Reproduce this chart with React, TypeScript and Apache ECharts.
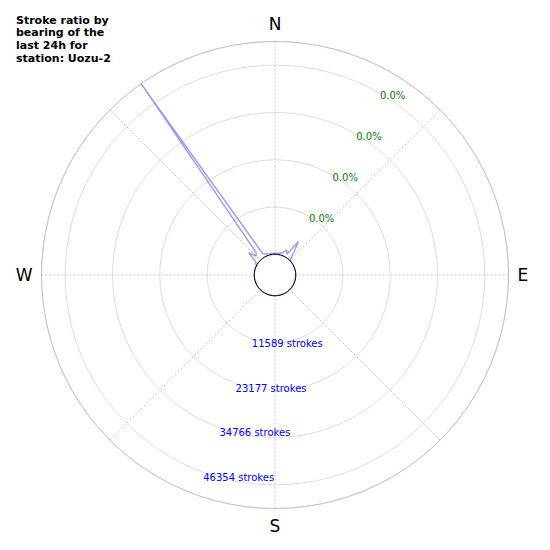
import * as echarts from 'echarts';
import React, { useEffect, useRef } from 'react';

// bearings of the 5° bins, degrees clockwise from north
const bearings = Array.from({ length: 72 }, (_, i) => i * 5);

// strokes per bin (mostly zero)
const strokes = [
  300, 300, 400, 500, 900, 1700, 900, 5000, 2000, 200, 0, 0,
  0, 0, 0, 0, 0, 0, 0, 0, 0, 0, 0, 0,
  0, 0, 0, 0, 0, 0, 0, 0, 0, 0, 0, 0,
  0, 0, 0, 0, 0, 0, 0, 0, 0, 0, 0, 0,
  0, 0, 0, 0, 0, 0, 0, 0, 0, 0, 0, 0,
  300, 800, 3400, 1500, 2200, 52148, 1100, 600, 500, 400, 400, 300,
];

const radiusTicks = [11588.5, 23177, 34765.5, 46354];
const strokeLabels = ['11589', '23177', '34766', '46354'];
const ratioLabels = ['0.0%', '0.0%', '0.0%', '0.0%'];
const compass: Record<number, string> = { 0: 'N', 90: 'E', 180: 'S', 270: 'W' };

const title = 'Stroke ratio by\nbearing of the\nlast 24h for\nstation: Uozu-2';
const font = 'DejaVu Sans';

const App: React.FC = () => {
  const chartRef = useRef<HTMLDivElement>(null);

  useEffect(() => {
    if (!chartRef.current) return;
    const chart = echarts.init(chartRef.current, undefined, { renderer: 'svg' });

    const lineData = bearings.map((b, i) => [strokes[i], b]);
    lineData.push([strokes[0], 360]);

    chart.setOption({
      animation: false,
      title: {
        text: title,
        left: 16,
        top: 14,
        padding: 0,
        textStyle: {
          fontFamily: font,
          fontSize: 11,
          fontWeight: 'bold',
          color: '#000',
          lineHeight: 12.6,
        },
      },
      polar: [
        { center: [275, 275], radius: [20.5, 233.5] },
        { center: [275, 275], radius: [0, 20.8] },
      ],
      angleAxis: [
        {
          polarIndex: 0,
          type: 'value',
          min: 0,
          max: 360,
          interval: 45,
          startAngle: 90,
          clockwise: true,
          axisLine: { lineStyle: { color: '#bdbdbd', width: 0.8 } },
          axisTick: { show: false },
          axisLabel: {
            margin: 9,
            fontFamily: font,
            fontSize: 17,
            color: '#000',
            formatter: (v: number) => compass[v] ?? '',
          },
          splitLine: {
            show: true,
            lineStyle: { color: '#b8b8b8', width: 0.8, type: [2, 2] },
          },
        },
        {
          polarIndex: 1,
          type: 'value',
          min: 0,
          max: 360,
          startAngle: 90,
          axisLine: { lineStyle: { color: '#000', width: 1 } },
          axisTick: { show: false },
          axisLabel: { show: false },
          splitLine: { show: false },
        },
      ],
      radiusAxis: [
        {
          polarIndex: 0,
          type: 'value',
          min: 0,
          max: 52148,
          interval: 11588.5,
          axisLine: { show: false },
          axisTick: { show: false },
          axisLabel: { show: false },
          splitLine: { show: true, lineStyle: { color: '#d4d4d4', width: 0.8 } },
        },
        { polarIndex: 1, type: 'value', show: false },
      ],
      series: [
        {
          type: 'line',
          coordinateSystem: 'polar',
          polarIndex: 0,
          data: lineData,
          symbol: 'none',
          clip: false,
          lineStyle: { color: 'rgba(0,0,255,0.4)', width: 1.4 },
          z: 3,
        },
        {
          type: 'scatter',
          coordinateSystem: 'polar',
          polarIndex: 0,
          silent: true,
          symbolSize: 0,
          itemStyle: { opacity: 1 },
          data: radiusTicks.map((v) => [v, 200]),
          label: {
            show: true,
            position: [0, 0],
            align: 'left',
            verticalAlign: 'top',
            fontFamily: font,
            fontSize: 10,
            color: '#0000ff',
            formatter: (p: any) => `${strokeLabels[p.dataIndex]} strokes`,
          },
        },
        {
          type: 'scatter',
          coordinateSystem: 'polar',
          polarIndex: 0,
          silent: true,
          symbolSize: 0,
          itemStyle: { opacity: 1 },
          data: radiusTicks.map((v) => [v, 30]),
          label: {
            show: true,
            position: [0, 0],
            align: 'left',
            verticalAlign: 'middle',
            offset: [0, 2],
            fontFamily: font,
            fontSize: 10,
            color: '#008000',
            formatter: (p: any) => ratioLabels[p.dataIndex],
          },
        },
      ],
    });

    return () => {
      chart.dispose();
    };
  }, []);

  return (
    <div
      ref={chartRef}
      style={{ position: 'fixed', left: 0, top: 0, width: 550, height: 550, background: '#fff' }}
    />
  );
};

export default App;
